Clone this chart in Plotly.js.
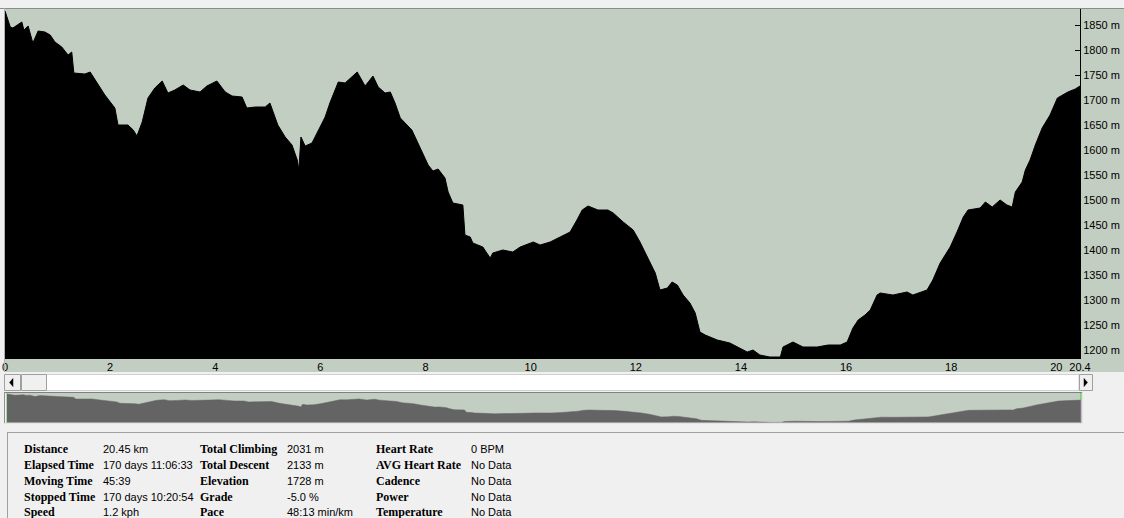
<!DOCTYPE html>
<html>
<head>
<meta charset="utf-8">
<script src="https://cdn.plot.ly/plotly-3.0.1.min.js"></script>
<style>
html,body{margin:0;padding:0;background:#f0f0f0;overflow:hidden;}
#chart{width:1124px;height:518px;}
</style>
</head>
<body>
<div id="chart"></div>
<script>
// ---- data ----
const distKm = [0.00,0.10,0.15,0.32,0.36,0.44,0.53,0.63,0.76,0.86,0.95,1.08,1.20,1.27,1.31,1.52,1.62,1.77,1.90,2.09,2.15,2.34,2.44,2.51,2.61,2.72,2.85,2.99,3.10,3.23,3.39,3.52,3.71,3.84,4.03,4.19,4.32,4.51,4.60,4.76,4.95,5.04,5.19,5.33,5.46,5.56,5.59,5.63,5.71,5.84,5.99,6.09,6.18,6.34,6.47,6.70,6.85,6.94,7.00,7.10,7.23,7.33,7.42,7.52,7.65,7.74,7.90,8.05,8.14,8.24,8.37,8.43,8.52,8.71,8.75,8.85,8.90,9.09,9.23,9.28,9.47,9.66,9.80,10.05,10.18,10.37,10.56,10.75,10.88,10.98,11.09,11.28,11.47,11.57,11.76,11.95,12.08,12.23,12.37,12.46,12.60,12.69,12.79,12.90,13.03,13.13,13.22,13.32,13.55,13.79,13.98,14.12,14.23,14.36,14.55,14.75,14.80,14.99,15.18,15.45,15.66,15.89,16.02,16.13,16.23,16.36,16.46,16.59,16.65,16.89,17.16,17.27,17.54,17.65,17.79,17.88,17.98,18.11,18.23,18.32,18.55,18.65,18.78,18.93,19.06,19.16,19.22,19.35,19.41,19.50,19.60,19.73,19.88,20.02,20.11,20.22,20.36,20.45];
const elevM  = [1878,1846,1844,1856,1840,1848,1814,1838,1836,1830,1816,1806,1790,1796,1754,1752,1756,1730,1710,1684,1650,1650,1640,1628,1656,1704,1724,1738,1714,1720,1730,1720,1716,1728,1738,1716,1708,1706,1684,1686,1686,1694,1650,1626,1610,1580,1560,1626,1608,1614,1644,1666,1694,1736,1734,1756,1728,1740,1748,1726,1714,1716,1694,1664,1650,1640,1604,1570,1558,1562,1544,1516,1494,1490,1430,1426,1414,1406,1384,1394,1400,1396,1406,1416,1410,1416,1426,1436,1460,1480,1488,1480,1480,1474,1456,1440,1416,1384,1354,1320,1324,1336,1330,1310,1294,1274,1236,1230,1220,1214,1204,1196,1200,1190,1186,1186,1206,1216,1206,1206,1210,1210,1216,1244,1260,1270,1280,1310,1314,1310,1316,1310,1320,1340,1374,1390,1406,1436,1466,1480,1484,1496,1486,1500,1490,1486,1516,1536,1560,1580,1610,1644,1670,1704,1710,1716,1722,1728];
const xTickVals = [0,2,4,6,8,10,12,14,16,18,20,20.45];
const xTickText = ['0','2','4','6','8','10','12','14','16','18','20','20.4'];
const yTickVals = [1200,1250,1300,1350,1400,1450,1500,1550,1600,1650,1700,1750,1800,1850];
const yTickUnit = ' m';
const statLabels1 = ['Distance','Elapsed Time','Moving Time','Stopped Time','Speed'];
const statValues1 = ['20.45 km','170 days 11:06:33','45:39','170 days 10:20:54','1.2 kph'];
const statLabels2 = ['Total Climbing','Total Descent','Elevation','Grade','Pace'];
const statValues2 = ['2031 m','2133 m','1728 m','-5.0 %','48:13 min/km'];
const statLabels3 = ['Heart Rate','AVG Heart Rate','Cadence','Power','Temperature'];
const statValues3 = ['0 BPM','No Data','No Data','No Data','No Data'];

// ---- layout helpers ----
const W = 1124, H = 518;
const fx = p => p / W;
const fy = p => 1 - p / H;
const BG = '#c3cec3';
const sans = 'Liberation Sans, Arial, sans-serif';
const serif = 'Liberation Serif, Times New Roman, serif';

const traces = [
  {x: distKm, y: elevM, type: 'scatter', mode: 'lines', fill: 'tozeroy',
   fillcolor: '#000000', line: {color: '#000000', width: 1}, xaxis: 'x', yaxis: 'y', hoverinfo: 'skip'},
  {x: distKm, y: elevM, type: 'scatter', mode: 'lines', fill: 'tozeroy',
   fillcolor: '#646464', line: {color: '#646464', width: 0.5}, xaxis: 'x2', yaxis: 'y2', hoverinfo: 'skip'}
];

function rect(x0, y0, x1, y1, fill, lineColor, layer) {
  return {type: 'rect', xref: 'paper', yref: 'paper', x0: fx(x0), x1: fx(x1), y0: fy(y1), y1: fy(y0),
    fillcolor: fill, line: {color: lineColor || 'rgba(0,0,0,0)', width: lineColor ? 1 : 0}, layer: layer || 'above'};
}
function hline(x0, x1, y, color) {
  return {type: 'line', xref: 'paper', yref: 'paper', x0: fx(x0), x1: fx(x1), y0: fy(y), y1: fy(y), line: {color: color, width: 1}, layer: 'above'};
}
function vline(x, y0, y1, color) {
  return {type: 'line', xref: 'paper', yref: 'paper', x0: fx(x), x1: fx(x), y0: fy(y0), y1: fy(y1), line: {color: color, width: 1}, layer: 'above'};
}
function tri(pts) {
  return {type: 'path', xref: 'paper', yref: 'paper', fillcolor: '#000', line: {color: '#000', width: 0.5}, layer: 'above',
    path: 'M' + pts.map(p => fx(p[0]) + ',' + fy(p[1])).join(' L') + ' Z'};
}

const shapes = [
  rect(4, 8, 1124, 372, BG, null, 'below'),
  hline(0, 1124, 8.5, '#8a8a8a'),
  vline(4.5, 8, 372, '#b0b0b0'),
  rect(46, 374.5, 1079, 390.5, '#ffffff', '#d0d0d0'),
  rect(4.5, 374.5, 20.5, 390.5, '#f0f0f0', '#a0a0a0'),
  rect(21.5, 374.5, 46.5, 390.5, '#f0f0f0', '#a0a0a0'),
  rect(1079.5, 374.5, 1092.5, 390.5, '#f0f0f0', '#a0a0a0'),
  tri([[9.5, 382.5], [13, 378.5], [13, 386.5]]),
  tri([[1087.5, 382.5], [1084, 378.5], [1084, 386.5]]),
  hline(4, 1082, 392.5, '#808080'),
  vline(4.5, 392, 423, '#909090'),
  hline(4, 1082, 423.5, '#e4e4e4'),
  vline(1082.5, 392, 423, '#e4e4e4'),
  vline(6.5, 393, 423, '#a8d8a8'),
  vline(1081, 393, 400, '#33cc33'),
  vline(1081, 400, 423, '#a383a3'),
  hline(7, 1124, 432.5, '#a0a0a0'),
  vline(7.5, 432, 518, '#a0a0a0')
];

const annotations = [];
const rowsY = [449, 465, 481, 497, 512];
const cols = [
  {lx: 22, vx: 101, labels: statLabels1, values: statValues1},
  {lx: 198, vx: 285, labels: statLabels2, values: statValues2},
  {lx: 374, vx: 469, labels: statLabels3, values: statValues3}
];
cols.forEach(c => {
  c.labels.forEach((t, i) => {
    annotations.push({xref: 'paper', yref: 'paper', x: fx(c.lx), y: fy(rowsY[i]), xanchor: 'left', yanchor: 'middle',
      text: '<b>' + t + '</b>', showarrow: false, font: {family: serif, size: 12, color: '#000'}});
    annotations.push({xref: 'paper', yref: 'paper', x: fx(c.vx), y: fy(rowsY[i]), xanchor: 'left', yanchor: 'middle',
      text: c.values[i], showarrow: false, font: {family: sans, size: 11, color: '#000'}});
  });
});

const layout = {
  width: W, height: H,
  margin: {l: 0, r: 0, t: 0, b: 0, pad: 0},
  paper_bgcolor: '#f0f0f0',
  plot_bgcolor: BG,
  showlegend: false,
  xaxis: {domain: [fx(5), fx(1080)], range: [0, 20.45], anchor: 'y',
    tickmode: 'array', tickvals: xTickVals, ticktext: xTickText, ticks: '',
    showgrid: false, zeroline: false, showline: false,
    tickfont: {family: sans, size: 11, color: '#000'}, fixedrange: true},
  yaxis: {domain: [fy(359), fy(9)], range: [1182, 1882], anchor: 'x', side: 'right',
    tickmode: 'array', tickvals: yTickVals, ticktext: yTickVals.map(v => v + yTickUnit),
    ticks: 'inside', ticklen: 5, tickcolor: '#000', tickwidth: 1,
    showline: true, linecolor: '#000', linewidth: 1, mirror: false,
    showgrid: false, zeroline: false, automargin: false,
    tickfont: {family: sans, size: 11, color: '#000'}, fixedrange: true},
  xaxis2: {domain: [fx(7), fx(1081)], range: [0, 20.45], anchor: 'y2', visible: false, fixedrange: true},
  yaxis2: {domain: [fy(422.5), fy(393)], range: [1184, 1900], anchor: 'x2', visible: false, fixedrange: true},
  shapes: shapes,
  annotations: annotations
};

Plotly.newPlot('chart', traces, layout, {displayModeBar: false, staticPlot: true});
</script>
</body>
</html>
